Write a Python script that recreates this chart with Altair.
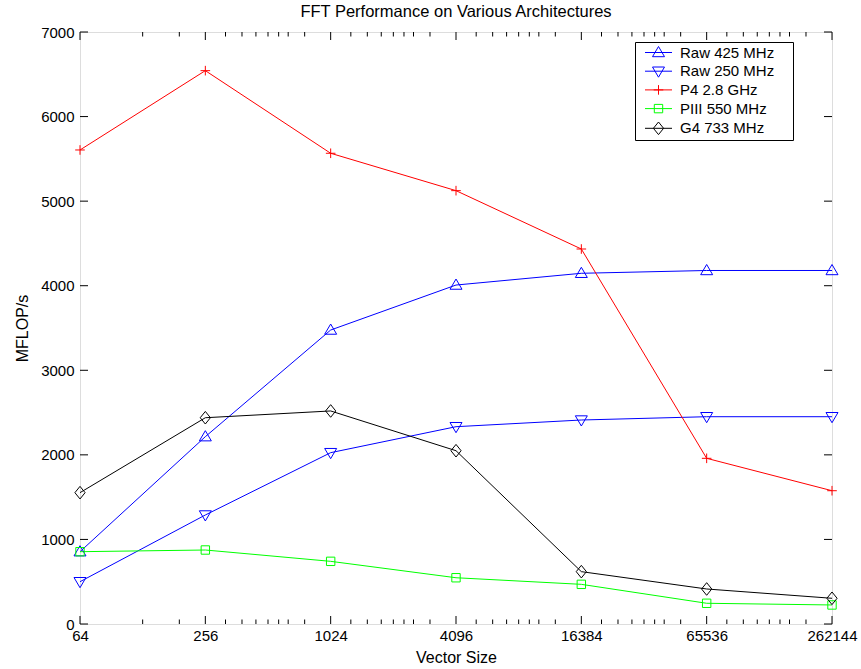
import altair as alt
import pandas as pd

# FFT throughput (MFLOP/s) by vector size
sizes = [64, 256, 1024, 4096, 16384, 65536, 262144]
raw425 = [855, 2215, 3476, 4008, 4147, 4180, 4180]
raw250 = [500, 1289, 2026, 2333, 2412, 2451, 2451]
p4 = [5605, 6543, 5566, 5124, 4434, 1959, 1576]
piii = [855, 875, 741, 547, 469, 245, 225]
g4 = [1553, 2439, 2519, 2049, 619, 414, 304]

series_names = ["Raw 425 MHz", "Raw 250 MHz", "P4 2.8 GHz", "PIII 550 MHz", "G4 733 MHz"]
series_colors = ["#0000ff", "#0000ff", "#ff0000", "#00ff00", "#000000"]

# axis ticks
x_major = [64, 256, 1024, 4096, 16384, 65536, 262144]
x_minor = [128, 192,
           320, 384, 448, 512, 576, 640, 768,
           1280, 1536, 1792, 2048, 2304, 2560, 3072,
           5120, 6144, 7168, 8192, 9216, 10240, 12288,
           20480, 24576, 28672, 32768, 36864, 40960, 49152,
           81920, 98304, 114688, 131072, 147456, 163840, 196608]
y_major = [0, 1000, 2000, 3000, 4000, 5000, 6000, 7000]

# marker outlines (unit square, scaled by symbol size)
marker_paths = [
    "M0,-1L1,0.7L-1,0.7Z",
    "M0,1L1,-0.7L-1,-0.7Z",
    "M-0.8,0L0.8,0M0,-0.8L0,0.8",
    "M-0.7,-0.7L0.7,-0.7L0.7,0.7L-0.7,0.7Z",
    "M0,-1.05L0.85,0L0,1.05L-0.85,0Z",
]
# legend keys: a short line segment through each marker
legend_paths = ["M-2.25,0L2.25,0" + p for p in marker_paths]

rows = []
for name, vals in zip(series_names, [raw425, raw250, p4, piii, g4]):
    for s, v in zip(sizes, vals):
        rows.append({"series": name, "size": s, "mflops": v})
df = pd.DataFrame(rows)

W, H = 752, 592
FONT = "Liberation Sans"

x_enc = alt.X(
    "size:Q",
    scale=alt.Scale(type="log", domain=[64, 262144], nice=False),
    axis=alt.Axis(values=x_major, format="d", ticks=False, domain=False, grid=False,
                  labelFlush=False, labelPadding=4, labelFontSize=15, labelFont=FONT,
                  labelColor="black", title="Vector Size", titleFontSize=16,
                  titleFont=FONT, titleFontWeight="normal", titleColor="black",
                  titlePadding=6),
)
y_enc = alt.Y(
    "mflops:Q",
    scale=alt.Scale(domain=[0, 7000], nice=False),
    axis=alt.Axis(values=y_major, format="d", ticks=False, domain=False, grid=False,
                  labelPadding=6, labelFontSize=15, labelFont=FONT, labelColor="black",
                  title="MFLOP/s", titleFontSize=16, titleFont=FONT,
                  titleFontWeight="normal", titleColor="black", titlePadding=10),
)

color_scale = alt.Scale(domain=series_names, range=series_colors)

lines = alt.Chart(df).mark_line(strokeWidth=1).encode(
    x=x_enc, y=y_enc,
    color=alt.Color("series:N", scale=color_scale, legend=None),
)

points = alt.Chart(df).mark_point(filled=False, size=144, strokeWidth=1, opacity=1).encode(
    x="size:Q", y="mflops:Q",
    color=alt.Color("series:N", scale=color_scale, legend=None),
    shape=alt.Shape("series:N", scale=alt.Scale(domain=series_names, range=marker_paths),
                    legend=None),
)

# blank trailing glyphs leave white space on the right of the legend box
legend_def = alt.Legend(
    title=None, orient="none", legendX=555, legendY=10,
    fillColor="white", strokeColor="black", padding=3,
    symbolSize=144, symbolStrokeWidth=1, symbolOffset=13,
    labelOffset=14, rowPadding=2.7,
    labelExpr="datum.label + '\u00a0\u2800'",
    labelFont=FONT, labelFontSize=15, labelColor="black",
)

legend_layer = alt.Chart(df).mark_point(filled=False, size=144, strokeWidth=1, opacity=1).encode(
    x="size:Q", y="mflops:Q",
    color=alt.Color("series:N", scale=color_scale, legend=legend_def),
    shape=alt.Shape("series:N", scale=alt.Scale(domain=series_names, range=legend_paths),
                    legend=legend_def),
).transform_filter("false")

# inward tick marks on all four sides of the frame
xmaj_df = pd.DataFrame({"t": x_major})
xmin_df = pd.DataFrame({"t": x_minor})
ymaj_df = pd.DataFrame({"t": y_major})

def xticks(data, length):
    bottom = alt.Chart(data).mark_rule(color="black", strokeWidth=1).encode(
        x="t:Q", y=alt.value(H), y2=alt.value(H - length))
    top = alt.Chart(data).mark_rule(color="black", strokeWidth=1).encode(
        x="t:Q", y=alt.value(0), y2=alt.value(length))
    return bottom + top

yticks_left = alt.Chart(ymaj_df).mark_rule(color="black", strokeWidth=1).encode(
    y="t:Q", x=alt.value(0), x2=alt.value(8))
yticks_right = alt.Chart(ymaj_df).mark_rule(color="black", strokeWidth=1).encode(
    y="t:Q", x=alt.value(W), x2=alt.value(W - 8))

chart = alt.layer(
    xticks(xmaj_df, 8), xticks(xmin_df, 4.5), yticks_left, yticks_right,
    lines, points, legend_layer,
).resolve_scale(
    color="independent", shape="independent"
).properties(
    width=W, height=H,
    title=alt.TitleParams("FFT Performance on Various Architectures", fontSize=16.5,
                          font=FONT, fontWeight="normal", color="black",
                          anchor="middle", offset=5),
    autosize=alt.AutoSizeParams(type="none"),
    padding={"left": 80, "top": 32, "right": 29, "bottom": 45},
).configure_view(
    stroke="black", strokeWidth=1.2
).configure(background="white")

chart.save("out.html", embed_options={"renderer": "svg", "actions": False})
